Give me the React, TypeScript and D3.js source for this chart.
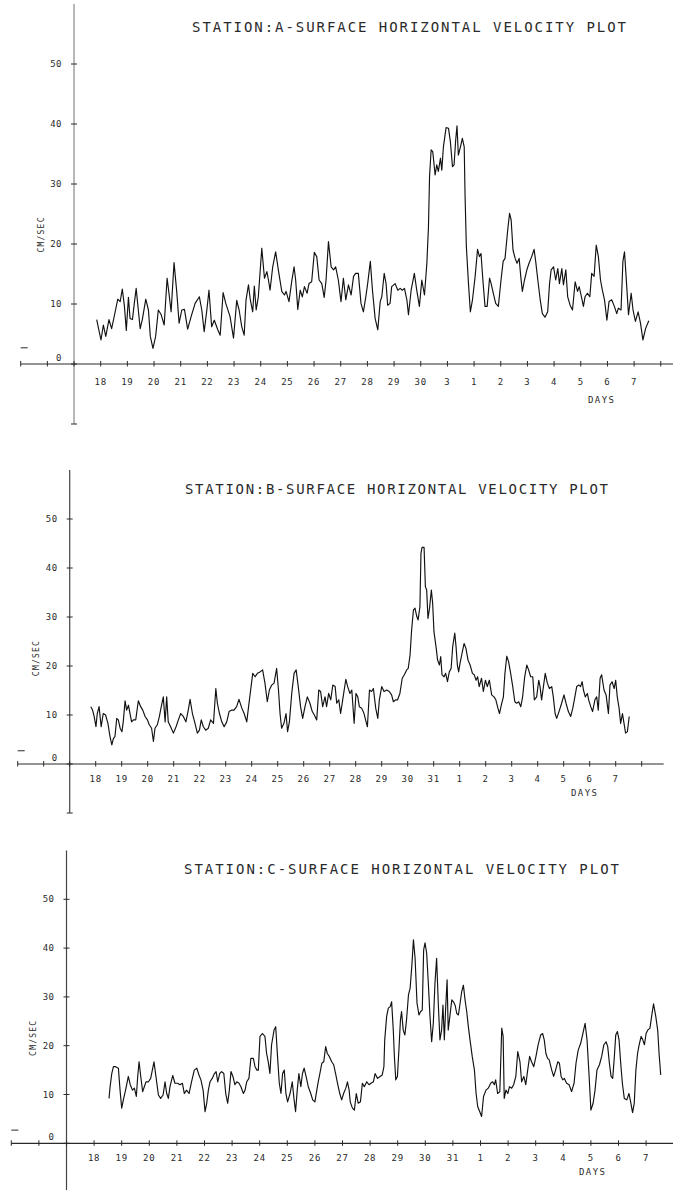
import React from "react";
import * as d3 from "d3";

// day 0 = the 18th, day 13 = the 31st, day 14 = the 1st of the next month
type Pt = [number, number];

const dayLabelsA = ["18", "19", "20", "21", "22", "23", "24", "25", "26", "27", "28", "29", "30", "3", "1", "2", "3", "4", "5", "6", "7"];
const dayLabelsBC = ["18", "19", "20", "21", "22", "23", "24", "25", "26", "27", "28", "29", "30", "31", "1", "2", "3", "4", "5", "6", "7"];
const speedTicks = [0, 10, 20, 30, 40, 50];
const axisTicks = [-10, 0, 10, 20, 30, 40, 50];

// [day, cm/sec]
const stationA: Pt[] = [
	[-0.15, 7.4], [0.01, 4.0], [0.1, 6.5], [0.19, 4.6], [0.31, 7.4], [0.41, 5.9], [0.51, 8.0], [0.64, 10.8], [0.73, 10.4], [0.81, 12.5],
	[0.89, 9.6], [0.96, 5.6], [1.04, 11.1], [1.1, 7.6], [1.19, 7.4], [1.26, 10.1], [1.33, 12.6], [1.41, 9.0], [1.48, 5.9], [1.56, 7.4],
	[1.69, 10.8], [1.79, 9.0], [1.86, 4.6], [1.96, 2.6], [2.06, 4.6], [2.16, 9.0], [2.26, 8.3], [2.38, 6.5], [2.49, 14.3], [2.56, 11.8],
	[2.64, 8.7], [2.75, 16.9], [2.85, 12.1], [2.94, 6.8], [3.04, 9.0], [3.14, 9.1], [3.26, 5.8], [3.39, 7.9], [3.54, 10.1], [3.7, 11.2],
	[3.79, 9.0], [3.88, 5.4], [3.98, 9.0], [4.06, 12.3], [4.16, 6.2], [4.26, 7.3], [4.39, 5.7], [4.48, 4.8], [4.59, 11.9], [4.69, 10.1],
	[4.85, 7.9], [4.98, 4.3], [5.1, 10.6], [5.19, 9.0], [5.29, 6.2], [5.38, 4.8], [5.45, 10.7], [5.54, 13.2], [5.61, 10.7], [5.7, 8.7],
	[5.76, 13.0], [5.83, 9.0], [5.91, 11.2], [6.04, 19.3], [6.14, 14.3], [6.23, 15.4], [6.29, 14.0], [6.35, 12.3], [6.45, 16.2], [6.56, 18.7],
	[6.66, 15.7], [6.79, 12.1], [6.89, 11.5], [6.95, 12.1], [7.06, 10.4], [7.16, 13.7], [7.25, 16.2], [7.31, 14.0], [7.39, 9.1], [7.48, 12.3],
	[7.56, 11.2], [7.64, 12.9], [7.74, 11.8], [7.81, 13.4], [7.91, 13.7], [8.01, 18.6], [8.1, 17.9], [8.19, 14.0], [8.29, 13.4], [8.38, 11.1],
	[8.45, 14.0], [8.54, 20.4], [8.64, 16.2], [8.73, 15.7], [8.81, 16.2], [8.91, 14.0], [9.01, 10.4], [9.1, 14.3], [9.19, 10.7], [9.29, 13.2],
	[9.39, 11.5], [9.48, 14.6], [9.56, 15.1], [9.66, 15.1], [9.76, 10.1], [9.85, 8.7], [9.94, 11.2], [10.01, 13.4], [10.11, 17.1], [10.19, 12.3],
	[10.29, 7.6], [10.39, 5.7], [10.48, 10.4], [10.54, 11.2], [10.63, 15.1], [10.7, 13.4], [10.76, 9.8], [10.85, 10.1], [10.91, 12.9], [11.04, 13.4],
	[11.14, 12.3], [11.23, 12.6], [11.31, 12.3], [11.39, 12.6], [11.48, 10.7], [11.54, 8.2], [11.64, 12.3], [11.76, 15.1], [11.85, 12.3], [11.95, 9.6],
	[12.04, 14.0], [12.14, 11.5], [12.23, 16.8], [12.29, 22.9], [12.33, 31.2], [12.39, 35.7], [12.45, 35.4], [12.54, 31.5], [12.6, 33.2], [12.66, 32.1],
	[12.74, 34.3], [12.79, 32.3], [12.85, 36.2], [12.95, 39.4], [13.04, 39.3], [13.11, 37.1], [13.19, 32.9], [13.25, 33.2], [13.31, 37.3], [13.36, 39.7],
	[13.41, 34.8], [13.49, 36.2], [13.56, 37.6], [13.63, 36.2], [13.66, 28.4], [13.71, 19.6], [13.79, 13.4], [13.86, 8.7], [13.94, 10.7], [14.04, 14.6],
	[14.13, 19.1], [14.2, 17.9], [14.26, 18.4], [14.33, 14.0], [14.41, 9.6], [14.49, 9.6], [14.58, 14.3], [14.64, 13.4], [14.72, 11.8], [14.81, 10.1],
	[14.91, 9.6], [15.01, 14.0], [15.09, 17.1], [15.16, 17.6], [15.26, 22.3], [15.33, 25.1], [15.39, 24.0], [15.46, 19.0], [15.54, 17.6], [15.61, 16.8],
	[15.69, 17.6], [15.75, 14.6], [15.81, 12.1], [15.89, 14.0], [15.98, 15.7], [16.06, 16.8], [16.16, 17.9], [16.25, 19.1], [16.31, 17.1], [16.39, 14.0],
	[16.48, 10.7], [16.56, 8.4], [16.66, 7.8], [16.76, 8.7], [16.83, 13.4], [16.89, 15.7], [16.98, 16.2], [17.06, 14.0], [17.14, 15.9], [17.2, 13.4],
	[17.29, 15.9], [17.35, 13.2], [17.44, 15.7], [17.51, 11.2], [17.6, 9.8], [17.69, 9.0], [17.79, 13.7], [17.88, 12.1], [17.94, 12.9], [18.01, 11.5],
	[18.1, 9.6], [18.16, 11.2], [18.25, 11.8], [18.34, 11.2], [18.41, 15.1], [18.5, 14.6], [18.58, 19.8], [18.66, 17.9], [18.74, 14.0], [18.81, 12.3],
	[18.89, 10.7], [18.98, 7.3], [19.06, 10.4], [19.16, 10.7], [19.26, 9.6], [19.35, 8.4], [19.41, 9.3], [19.51, 9.0], [19.58, 17.1], [19.64, 18.7],
	[19.7, 14.6], [19.79, 8.2], [19.89, 11.8], [19.96, 9.0], [20.05, 7.1], [20.15, 8.7], [20.24, 6.8], [20.33, 4.0], [20.43, 5.9], [20.55, 7.2],
];

const stationB: Pt[] = [
	[-0.19, 11.7], [-0.12, 11.0], [-0.06, 9.7], [0.01, 7.6], [0.06, 10.3], [0.13, 11.7], [0.21, 7.6], [0.29, 10.3], [0.38, 10.0], [0.47, 8.3],
	[0.55, 5.6], [0.62, 3.9], [0.68, 5.2], [0.74, 5.6], [0.81, 9.3], [0.87, 9.0], [0.94, 7.3], [1.01, 6.6], [1.06, 8.6], [1.13, 12.9],
	[1.19, 11.0], [1.26, 12.0], [1.32, 10.3], [1.38, 8.6], [1.45, 9.0], [1.54, 9.0], [1.64, 12.9], [1.73, 11.7], [1.81, 11.0], [1.9, 9.7],
	[1.99, 9.0], [2.06, 8.0], [2.15, 7.3], [2.22, 4.6], [2.28, 7.3], [2.37, 8.0], [2.45, 9.7], [2.51, 11.4], [2.6, 13.7], [2.67, 8.6],
	[2.73, 13.7], [2.79, 8.6], [2.88, 7.6], [2.99, 6.3], [3.09, 7.6], [3.18, 9.0], [3.27, 10.3], [3.37, 9.7], [3.47, 8.6], [3.56, 11.0],
	[3.63, 13.2], [3.72, 10.3], [3.82, 8.3], [3.91, 6.3], [3.99, 6.9], [4.06, 9.0], [4.14, 7.6], [4.23, 6.9], [4.33, 7.3], [4.42, 9.0],
	[4.53, 8.3], [4.62, 15.4], [4.68, 12.4], [4.76, 10.3], [4.85, 8.6], [4.94, 7.6], [5.04, 8.6], [5.13, 10.7], [5.23, 11.0], [5.32, 11.0],
	[5.42, 11.7], [5.51, 13.2], [5.62, 11.4], [5.71, 10.3], [5.81, 8.6], [5.88, 11.7], [5.96, 15.1], [6.04, 18.5], [6.13, 17.8], [6.22, 18.5],
	[6.32, 18.8], [6.42, 19.2], [6.51, 16.5], [6.6, 12.7], [6.68, 15.1], [6.77, 16.1], [6.86, 16.5], [6.96, 19.5], [7.03, 15.1], [7.09, 10.3],
	[7.15, 7.3], [7.24, 8.3], [7.32, 10.3], [7.38, 6.6], [7.45, 8.6], [7.54, 14.4], [7.63, 18.5], [7.71, 19.2], [7.79, 15.8], [7.88, 11.7],
	[7.96, 9.3], [8.05, 11.7], [8.14, 13.7], [8.24, 12.4], [8.33, 10.7], [8.41, 10.0], [8.5, 9.0], [8.58, 15.1], [8.65, 14.8], [8.73, 11.7],
	[8.82, 13.7], [8.88, 11.7], [8.96, 14.4], [9.04, 13.1], [9.12, 16.1], [9.21, 15.8], [9.27, 12.4], [9.35, 13.1], [9.42, 10.3], [9.5, 13.1],
	[9.62, 17.3], [9.69, 15.8], [9.78, 14.4], [9.85, 15.1], [9.94, 8.3], [10.01, 14.4], [10.08, 13.7], [10.14, 11.7], [10.23, 11.4], [10.32, 10.3],
	[10.4, 8.6], [10.45, 7.6], [10.53, 15.1], [10.61, 14.8], [10.68, 15.4], [10.77, 11.4], [10.85, 9.3], [10.91, 13.1], [11.0, 15.8], [11.09, 14.8],
	[11.19, 15.1], [11.29, 14.8], [11.38, 14.1], [11.45, 12.7], [11.53, 13.1], [11.61, 13.1], [11.7, 14.4], [11.79, 17.5], [11.87, 18.2], [11.96, 19.2],
	[12.02, 19.5], [12.09, 22.2], [12.15, 27.3], [12.22, 31.4], [12.28, 31.8], [12.35, 30.1], [12.4, 29.4], [12.47, 32.1], [12.51, 43.0], [12.55, 44.2],
	[12.63, 44.2], [12.68, 36.2], [12.73, 35.5], [12.78, 29.7], [12.84, 31.8], [12.91, 35.5], [12.96, 32.8], [13.01, 27.0], [13.09, 23.9], [13.15, 21.2],
	[13.22, 20.2], [13.27, 21.9], [13.32, 18.2], [13.4, 17.8], [13.46, 18.5], [13.53, 16.8], [13.6, 18.8], [13.67, 19.5], [13.73, 23.9], [13.81, 26.7],
	[13.86, 23.9], [13.91, 20.2], [13.96, 18.8], [14.01, 20.5], [14.09, 22.6], [14.17, 24.6], [14.24, 23.6], [14.32, 21.2], [14.4, 20.2], [14.49, 18.5],
	[14.56, 18.2], [14.63, 17.1], [14.69, 17.8], [14.75, 15.8], [14.84, 17.5], [14.91, 14.8], [14.99, 17.1], [15.06, 15.8], [15.14, 17.1], [15.23, 14.1],
	[15.32, 13.7], [15.39, 13.1], [15.47, 11.4], [15.53, 10.3], [15.6, 12.0], [15.68, 13.7], [15.74, 18.5], [15.81, 22.0], [15.88, 20.9], [15.96, 18.5],
	[16.04, 15.8], [16.12, 12.7], [16.19, 12.4], [16.27, 12.7], [16.35, 11.7], [16.42, 13.7], [16.5, 17.8], [16.58, 20.2], [16.65, 19.2], [16.73, 17.8],
	[16.81, 17.8], [16.87, 13.1], [16.96, 13.7], [17.04, 17.1], [17.09, 15.8], [17.15, 13.1], [17.22, 15.8], [17.29, 18.5], [17.37, 16.5], [17.45, 15.4],
	[17.54, 15.8], [17.6, 13.7], [17.67, 10.3], [17.73, 9.3], [17.82, 10.7], [17.92, 12.4], [18.01, 14.1], [18.09, 12.4], [18.18, 10.7], [18.27, 9.7],
	[18.35, 11.4], [18.43, 13.7], [18.5, 15.8], [18.59, 16.1], [18.65, 15.8], [18.71, 16.8], [18.76, 15.1], [18.83, 13.7], [18.91, 14.4], [18.96, 13.1],
	[19.04, 11.7], [19.11, 10.7], [19.2, 13.1], [19.27, 13.7], [19.33, 11.0], [19.4, 17.5], [19.46, 18.2], [19.55, 15.1], [19.63, 14.1], [19.72, 10.3],
	[19.78, 16.1], [19.86, 16.8], [19.94, 15.4], [20.0, 17.1], [20.06, 13.7], [20.13, 11.4], [20.19, 8.3], [20.26, 10.3], [20.32, 8.3], [20.38, 6.3],
	[20.45, 6.6], [20.52, 9.7],
];

const stationC: Pt[] = [
	[0.54, 9.2], [0.58, 11.6], [0.64, 14.3], [0.7, 15.7], [0.78, 15.7], [0.88, 15.4], [0.94, 10.9], [1.0, 7.2], [1.06, 8.9], [1.14, 10.9],
	[1.24, 13.7], [1.31, 12.0], [1.39, 10.9], [1.46, 11.3], [1.53, 9.6], [1.58, 13.7], [1.63, 16.7], [1.69, 13.7], [1.76, 10.6], [1.82, 11.6],
	[1.88, 12.6], [1.97, 12.6], [2.05, 13.3], [2.11, 15.0], [2.17, 16.7], [2.24, 13.7], [2.33, 9.9], [2.41, 9.2], [2.5, 9.9], [2.57, 12.6],
	[2.63, 10.2], [2.69, 9.2], [2.75, 11.6], [2.85, 13.9], [2.93, 12.3], [3.03, 12.3], [3.11, 12.0], [3.2, 12.3], [3.27, 10.2], [3.35, 10.9],
	[3.44, 10.2], [3.53, 12.6], [3.63, 15.0], [3.72, 15.4], [3.8, 14.0], [3.87, 13.0], [3.95, 10.9], [4.02, 6.5], [4.08, 8.2], [4.14, 10.9],
	[4.2, 12.6], [4.28, 13.3], [4.36, 14.3], [4.42, 14.7], [4.48, 12.6], [4.55, 14.3], [4.62, 14.7], [4.7, 14.3], [4.77, 10.2], [4.84, 8.2],
	[4.9, 10.9], [4.96, 14.7], [5.03, 13.7], [5.1, 12.0], [5.17, 12.6], [5.25, 12.3], [5.32, 11.6], [5.41, 10.2], [5.47, 10.9], [5.53, 12.6],
	[5.61, 13.3], [5.68, 17.4], [5.77, 17.4], [5.83, 15.7], [5.9, 15.0], [5.95, 15.0], [6.01, 21.9], [6.1, 22.5], [6.19, 21.9], [6.25, 18.4],
	[6.31, 16.7], [6.37, 14.3], [6.43, 20.2], [6.52, 23.2], [6.58, 23.9], [6.65, 17.4], [6.71, 12.3], [6.77, 10.2], [6.83, 14.3], [6.89, 15.0],
	[6.95, 10.2], [7.01, 8.5], [7.1, 10.2], [7.18, 12.6], [7.24, 9.2], [7.3, 6.5], [7.36, 10.9], [7.42, 14.3], [7.49, 11.6], [7.55, 14.3],
	[7.61, 15.4], [7.68, 13.7], [7.76, 11.6], [7.85, 10.2], [7.92, 8.9], [8.0, 8.5], [8.06, 10.6], [8.12, 12.6], [8.18, 14.3], [8.25, 16.4],
	[8.32, 16.7], [8.39, 19.8], [8.45, 18.4], [8.52, 17.8], [8.61, 16.7], [8.68, 16.1], [8.75, 14.3], [8.82, 12.3], [8.9, 10.2], [8.97, 8.9],
	[9.04, 10.2], [9.12, 11.3], [9.18, 12.6], [9.24, 10.9], [9.28, 8.5], [9.36, 7.2], [9.43, 6.8], [9.5, 10.2], [9.57, 8.2], [9.65, 8.5],
	[9.72, 12.3], [9.79, 11.6], [9.88, 12.6], [9.96, 12.0], [10.03, 12.3], [10.12, 12.6], [10.18, 14.3], [10.27, 13.3], [10.36, 13.7], [10.44, 14.0],
	[10.5, 15.7], [10.53, 21.2], [10.6, 26.0], [10.66, 27.7], [10.73, 28.0], [10.78, 29.0], [10.84, 23.2], [10.88, 17.8], [10.93, 13.0], [10.99, 13.7],
	[11.05, 19.8], [11.1, 25.3], [11.14, 27.0], [11.2, 23.2], [11.26, 22.2], [11.32, 25.3], [11.39, 30.4], [11.45, 31.8], [11.51, 36.2], [11.57, 41.7],
	[11.63, 37.9], [11.7, 28.7], [11.77, 26.3], [11.83, 27.0], [11.89, 27.3], [11.94, 39.6], [11.99, 41.1], [12.05, 38.9], [12.11, 32.8], [12.17, 26.0],
	[12.23, 20.8], [12.29, 24.6], [12.35, 32.8], [12.41, 37.9], [12.47, 28.7], [12.53, 21.2], [12.59, 23.2], [12.64, 28.3], [12.69, 21.2], [12.74, 28.0],
	[12.79, 33.5], [12.83, 23.2], [12.89, 26.0], [12.96, 29.4], [13.02, 29.0], [13.08, 28.3], [13.14, 26.6], [13.2, 26.3], [13.26, 28.7], [13.32, 31.1],
	[13.38, 32.4], [13.44, 29.4], [13.5, 27.0], [13.56, 23.9], [13.62, 21.2], [13.7, 17.8], [13.78, 15.0], [13.84, 10.2], [13.9, 7.5], [13.97, 6.5],
	[14.04, 5.5], [14.11, 9.6], [14.2, 10.9], [14.28, 11.3], [14.37, 12.3], [14.44, 12.6], [14.5, 12.0], [14.55, 13.0], [14.62, 10.2], [14.7, 10.6],
	[14.77, 23.6], [14.82, 21.9], [14.86, 9.2], [14.92, 10.9], [14.99, 10.2], [15.05, 11.6], [15.13, 11.3], [15.2, 12.0], [15.28, 13.7], [15.35, 18.8],
	[15.43, 16.7], [15.49, 12.6], [15.57, 13.7], [15.64, 12.0], [15.71, 15.0], [15.78, 17.8], [15.85, 16.7], [15.93, 15.7], [16.01, 17.8], [16.09, 20.2],
	[16.18, 22.2], [16.25, 22.5], [16.31, 21.2], [16.37, 18.4], [16.43, 17.4], [16.49, 17.1], [16.58, 15.0], [16.65, 13.7], [16.72, 15.0], [16.8, 16.7],
	[16.86, 16.4], [16.92, 13.7], [16.98, 13.0], [17.04, 13.3], [17.12, 12.3], [17.21, 12.0], [17.3, 10.6], [17.39, 12.3], [17.46, 16.4], [17.54, 19.1],
	[17.63, 20.5], [17.71, 22.5], [17.79, 24.6], [17.86, 21.2], [17.93, 14.3], [18.0, 6.8], [18.08, 8.2], [18.15, 10.9], [18.22, 15.0], [18.31, 16.1],
	[18.39, 17.8], [18.47, 20.2], [18.55, 20.8], [18.61, 19.8], [18.67, 16.4], [18.73, 13.7], [18.79, 13.3], [18.85, 17.8], [18.9, 22.2], [18.96, 22.9],
	[19.02, 21.2], [19.08, 16.4], [19.14, 12.3], [19.21, 9.2], [19.3, 8.9], [19.38, 10.2], [19.45, 8.2], [19.51, 6.3], [19.57, 8.2], [19.63, 15.0],
	[19.69, 18.4], [19.75, 20.2], [19.82, 21.9], [19.88, 21.2], [19.94, 20.2], [20.0, 22.5], [20.06, 23.2], [20.14, 23.6], [20.2, 26.0], [20.27, 28.6],
	[20.35, 26.0], [20.42, 23.2], [20.47, 18.4], [20.53, 14.0],
];

const titles = [
	"STATION:A-SURFACE HORIZONTAL VELOCITY PLOT",
	"STATION:B-SURFACE HORIZONTAL VELOCITY PLOT",
	"STATION:C-SURFACE HORIZONTAL VELOCITY PLOT",
];

// page layout of the three scanned plots
const panels = [
	{ title: titles[0], data: stationA, labels: dayLabelsA, x0: 100.7, dx: 26.67, axisY: 364, unit: 6.0, tickDy: 18, titleX: 192, titleW: 434, daysX: 601, daysDy: 36, yColor: "#8a8a8a" },
	{ title: titles[1], data: stationB, labels: dayLabelsBC, x0: 95.7, dx: 26.0, axisY: 764, unit: 4.9, tickDy: 15, titleX: 185, titleW: 423, daysX: 584, daysDy: 29, yColor: "#444" },
	{ title: titles[2], data: stationC, labels: dayLabelsBC, x0: 94.1, dx: 27.6, axisY: 1143.3, unit: 4.88, tickDy: 15, titleX: 184, titleW: 435, daysX: 592, daysDy: 29, yColor: "#444" },
];

const W = 673;
const H = 1190;
const font = "'DejaVu Sans Mono', monospace";
const ink = "#2a2a2a";

type PanelProps = (typeof panels)[number];

const Panel: React.FC<{ p: PanelProps }> = ({ p }) => {
	const x = d3.scaleLinear().domain([0, 20]).range([p.x0, p.x0 + 20 * p.dx]);
	const y = d3.scaleLinear().domain([0, 50]).range([p.axisY, p.axisY - 50 * p.unit]);
	const line = d3
		.line<Pt>()
		.x((d) => x(d[0]))
		.y((d) => y(d[1]));
	const yAxisX = x(-1);
	const tickIdx = d3.range(-3, 22);

	return (
		<g>
			<text x={p.titleX} y={y(56.2)} textLength={p.titleW} lengthAdjust="spacing" fontSize={14} fontFamily={font} fill={ink} dominantBaseline="central">
				{p.title}
			</text>

			{/* y axis */}
			<line x1={yAxisX} x2={yAxisX} y1={y(60)} y2={y(-10)} stroke={p.yColor} strokeWidth={1.2} />
			{axisTicks.map((t) => (
				<line key={t} x1={yAxisX - 3} x2={yAxisX + 3} y1={y(t)} y2={y(t)} stroke={ink} strokeWidth={1} />
			))}
			{speedTicks.map((t) => (
				<text key={t} x={yAxisX - 12} y={t === 0 ? y(0) - 6 : y(t)} textAnchor="end" dominantBaseline="central" fontSize={9} fontFamily={font} fill={ink} letterSpacing={0.5}>
					{t}
				</text>
			))}
			<text transform={`translate(${yAxisX - 33},${y(21.5)}) rotate(-90)`} textAnchor="middle" dominantBaseline="central" fontSize={8} fontFamily={font} fill={ink} textLength={35} lengthAdjust="spacing">
				CM/SEC
			</text>
			<line x1={x(-3)} x2={x(-3) + 7} y1={y(2.7)} y2={y(2.7)} stroke={ink} strokeWidth={1} />

			{/* x axis */}
			<line x1={x(-3)} x2={Math.min(W, x(22) - 4)} y1={y(0)} y2={y(0)} stroke={ink} strokeWidth={1.2} />
			{tickIdx.map((i) => (
				<line key={i} x1={x(i)} x2={x(i)} y1={y(0) - 3} y2={y(0) + 2.5} stroke={ink} strokeWidth={1} />
			))}
			{p.labels.map((l, i) => (
				<text key={i} x={x(i)} y={y(0) + p.tickDy} textAnchor="middle" dominantBaseline="central" fontSize={9} fontFamily={font} fill={ink} letterSpacing={0.8}>
					{l}
				</text>
			))}
			<text x={p.daysX} y={y(0) + p.daysDy} textAnchor="middle" dominantBaseline="central" fontSize={9} fontFamily={font} fill={ink} textLength={26} lengthAdjust="spacing">
				DAYS
			</text>

			<path d={line(p.data) ?? ""} fill="none" stroke="#111" strokeWidth={1.15} strokeLinejoin="round" />
		</g>
	);
};

export default function App() {
	return (
		<svg width={W} height={H} viewBox={`0 0 ${W} ${H}`} style={{ position: "absolute", left: 0, top: 0, background: "#fff", display: "block" }}>
			<rect width={W} height={H} fill="#fff" />
			{panels.map((p, k) => (
				<Panel key={k} p={p} />
			))}
		</svg>
	);
}
